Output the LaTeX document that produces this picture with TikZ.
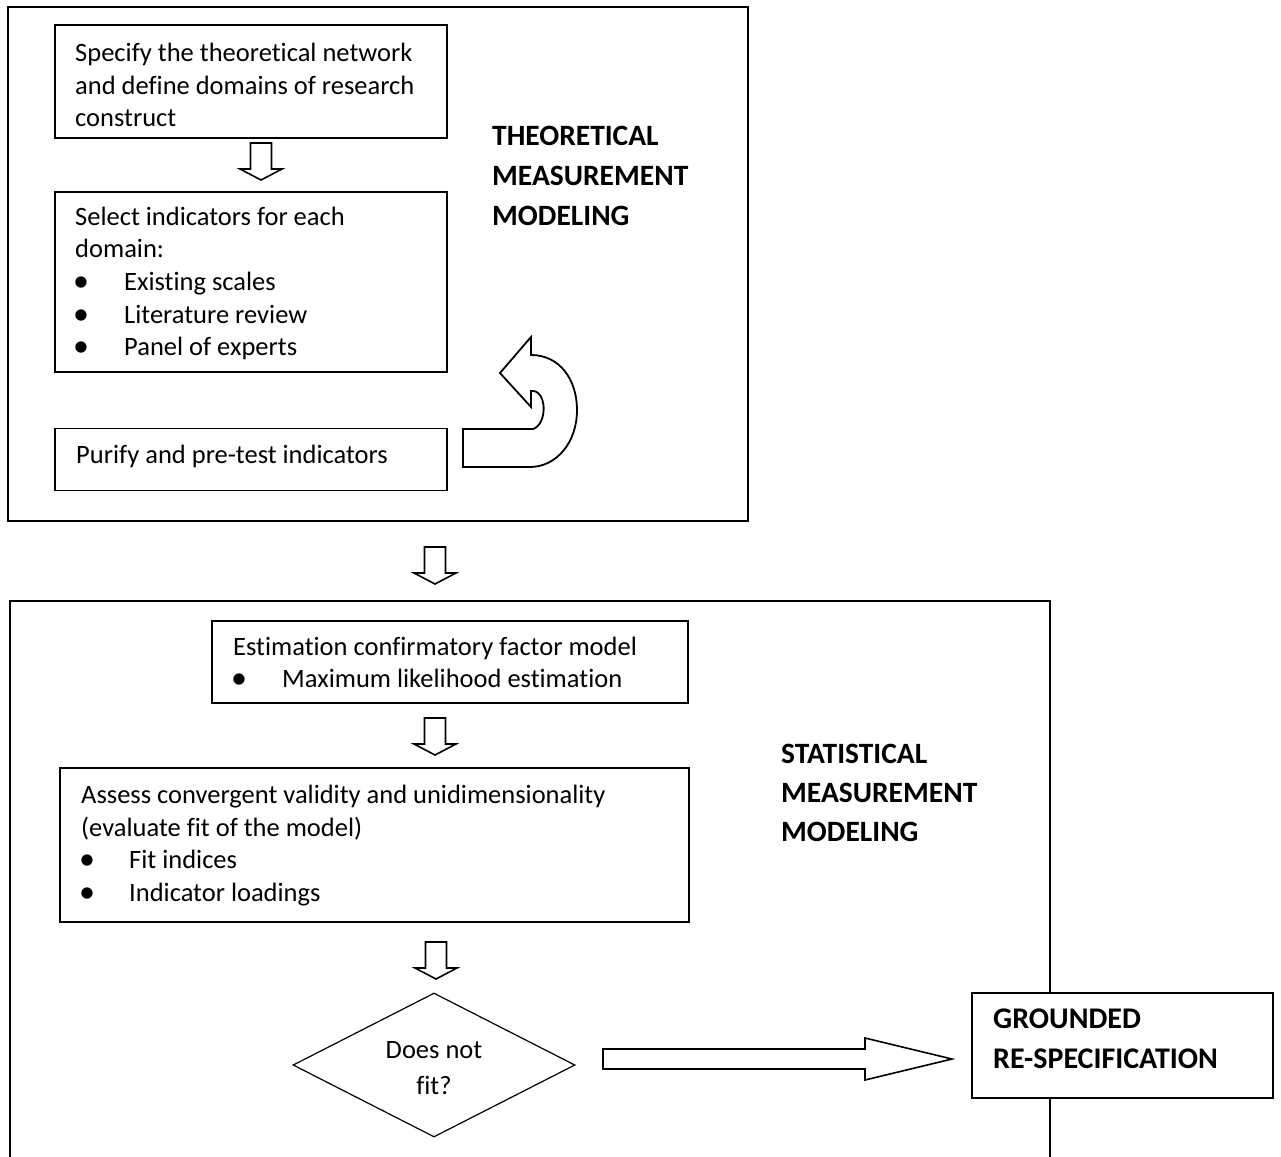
\documentclass[tikz,border=0pt]{standalone}
\usepackage{fontspec}
\setmainfont[Ligatures=NoCommon]{Carlito}
\usetikzlibrary{shapes.geometric}
\tikzset{
  box/.style={draw, line width=1.5pt, fill=white, inner sep=0pt},
  outer/.style={draw, line width=2.4pt, line join=miter},
  txt/.style={anchor=base west, inner sep=0pt, font=\fontsize{26.5}{32.5}\selectfont},
  bul/.style={anchor=base, inner sep=0pt, font=\fontsize{26.5}{32.5}\selectfont},
  bigbul/.style={anchor=base, inner sep=0pt, font=\fontsize{32}{32.5}\selectfont},
  head/.style={anchor=base west, inner sep=0pt, font=\bfseries\fontsize{29.5}{36}\selectfont},
  blk/.style={draw, line width=1.6pt, fill=white, line join=miter},
  downarr/.pic={\draw[blk] (-10.5,0) -- (10.5,0) -- (10.5,26) -- (21,26) -- (0,37) -- (-21,26) -- (-10.5,26) -- cycle;}
}
\begin{document}
\begin{tikzpicture}[x=1pt,y=-1pt]
\useasboundingbox (0,0) rectangle (1281,1156);
% outer frames
\draw[outer] (8,7) rectangle (748,521);
\draw[outer] (10,1160) -- (10,601) -- (1050,601) -- (1050,1160);

% theoretical boxes
\node[box, minimum width=392pt, minimum height=113pt] (b1) at (251,81.5) {};
\node[box, minimum width=392pt, minimum height=180pt] (b2) at (251,282) {};
\node[box, minimum width=392pt, minimum height=62pt] (b3) at (251,459.5) {};

\node[txt] (t1a) at (75,62) {Specify the theoretical network};
\node[txt] (t1b) at (75,94) {and define domains of research};
\node[txt] (t1c) at (75,126) {construct};

\node[txt] (t2a) at (75,225) {Select indicators for each};
\node[txt] (t2b) at (75,257) {domain:};
\node[bigbul] (u2a) at (81,291) {\textbullet};
\node[txt] (t2c) at (124,290) {Existing scales};
\node[bigbul] (u2b) at (81,324) {\textbullet};
\node[txt] (t2d) at (124,323) {Literature review};
\node[bigbul] (u2c) at (81,356) {\textbullet};
\node[txt] (t2e) at (124,355) {Panel of experts};

\node[txt] (t3a) at (76,463) {Purify and pre-test indicators};

\node[head] (h1a) at (492,145) {THEORETICAL};
\node[head] (h1b) at (492,185) {MEASUREMENT};
\node[head] (h1c) at (492,225) {MODELING};

% curved arrow
\draw[blk, line width=1.8pt] (463,429) -- (533,429)
  .. controls (548,424) and (547,389) .. (531,391)
  -- (531,407) -- (500,373) -- (531,337) -- (531,355)
  .. controls (560,355) and (577,380) .. (577,410)
  .. controls (577,443) and (556,467) .. (530,467)
  -- (463,467) -- cycle;

% down arrows
\pic at (261,143) {downarr};
\pic at (435,547) {downarr};
\pic at (435,718) {downarr};
\pic at (436,942) {downarr};

% statistical boxes
\node[box, minimum width=476pt, minimum height=82pt] (b4) at (450,662) {};
\node[box, minimum width=629pt, minimum height=154pt] (b5) at (374.5,845) {};

\node[txt] (t4a) at (233,655) {Estimation confirmatory factor model};
\node[bigbul] (u4a) at (239,688) {\textbullet};
\node[txt] (t4b) at (282,687) {Maximum likelihood estimation};

\node[txt] (t5a) at (81,803) {Assess convergent validity and unidimensionality};
\node[txt] (t5b) at (81,836) {(evaluate fit of the model)};
\node[bigbul] (u5a) at (87,869) {\textbullet};
\node[txt] (t5c) at (129,868) {Fit indices};
\node[bigbul] (u5b) at (87,902) {\textbullet};
\node[txt] (t5d) at (129,901) {Indicator loadings};

\node[head] (h2a) at (781,763) {STATISTICAL};
\node[head] (h2b) at (781,802) {MEASUREMENT};
\node[head] (h2c) at (781,841) {MODELING};

% diamond
\node[draw, diamond, line width=1.2pt, inner sep=0pt, minimum width=282pt, minimum height=144pt] (dia) at (434,1065) {};
\node[bul] (d1) at (434,1058) {Does not};
\node[bul] (d2) at (434,1094) {fit?};

% grounded box
\node[box, line width=2.6pt, minimum width=301pt, minimum height=105pt] (g) at (1122.5,1045.5) {};
\node[head, font=\bfseries\fontsize{30}{36}\selectfont] (g1) at (993,1028) {GROUNDED};
\node[head, font=\bfseries\fontsize{30}{36}\selectfont] (g2) at (993,1068) {RE-SPECIFICATION};

% big right arrow
\draw[blk] (603,1049) -- (865,1049) -- (865,1038) -- (952,1059) -- (865,1080) -- (865,1069) -- (603,1069) -- cycle;
\end{tikzpicture}
\end{document}
